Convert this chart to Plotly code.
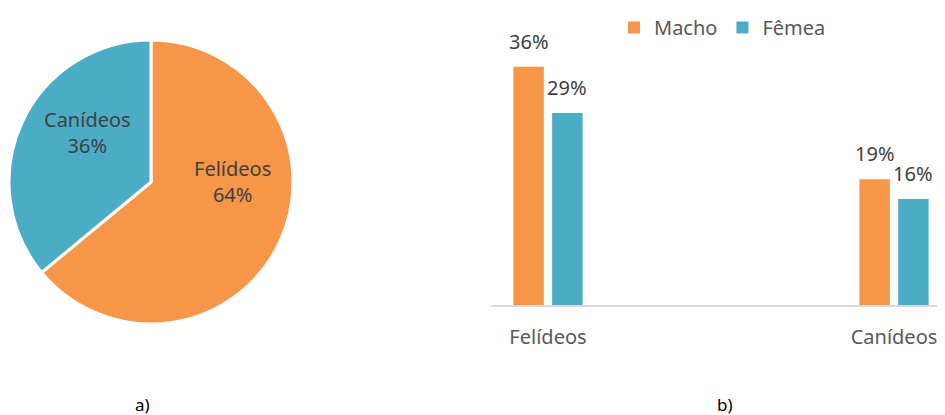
import plotly.graph_objects as go

# Data
pie_labels = ["Felídeos", "Canídeos"]
pie_values = [64, 36]

bar_categories = ["Felídeos", "Canídeos"]
macho_values = [36, 19]
femea_values = [29, 16]
series_names = ["Macho", "Fêmea"]
panel_labels = ["a)", "b)"]

ORANGE = "#F79646"
TEAL = "#4BACC6"
TXT = "#404040"
AX = "#595959"
FONT = "Noto Sans"

# the page body has an 8px margin; figure is sized to fit the 945x415 window
PAD = 8
W, H = 945 - PAD, 415 - PAD
TOP = 10  # small top margin holding the legend


def px(x):
    return (x - PAD) / W


def py(y):
    return 1 - (y - PAD - TOP) / (H - TOP)


BAR_W = 0.088
OFFS = [-0.100, 0.012]
# label anchor points for pie slices (page pixels), in pie_labels order
PIE_TEXT_POS = [(232, 181), (87, 133)]

fig = go.Figure()

fig.add_trace(go.Pie(
    labels=pie_labels, values=pie_values, sort=False, direction="clockwise", rotation=0,
    marker=dict(colors=[ORANGE, TEAL], line=dict(color="white", width=3)),
    textinfo="none",
    domain=dict(x=[px(9), px(293)], y=[py(324), py(40)]),
    showlegend=False, hoverinfo="skip",
))

total = sum(pie_values)
for lab, val, (tx, ty) in zip(pie_labels, pie_values, PIE_TEXT_POS):
    fig.add_annotation(
        x=px(tx), y=py(ty), xref="paper", yref="paper", xanchor="center", yanchor="middle",
        text=f"{lab}<br>{round(100 * val / total)}%", showarrow=False,
        font=dict(family=FONT, size=20, color=TXT), align="center",
    )

for name, vals, col, off in zip(series_names, [macho_values, femea_values], [ORANGE, TEAL], OFFS):
    fig.add_trace(go.Bar(
        name=name, x=bar_categories, y=vals, marker=dict(color=col, line=dict(width=0)),
        width=BAR_W, offset=off, xaxis="x", yaxis="y",
    ))
    for i, v in enumerate(vals):
        fig.add_annotation(
            x=i + off + BAR_W / 2, y=v, xref="x", yref="y", text=f"{v}%",
            showarrow=False, xanchor="center", yanchor="bottom", yshift=10,
            font=dict(family=FONT, size=20, color=TXT),
        )

for lab, (tx, ty) in zip(panel_labels, [(142, 404), (725, 404)]):
    fig.add_annotation(x=px(tx), y=py(ty), xref="paper", yref="paper", text=lab,
                       xanchor="center", yanchor="middle",
                       showarrow=False, font=dict(family=FONT, size=17, color="black"))

fig.update_layout(
    width=W, height=H, margin=dict(l=0, r=0, t=TOP, b=0, pad=0),
    paper_bgcolor="white", plot_bgcolor="white",
    barmode="overlay",
    xaxis=dict(domain=[px(491), 1.0], range=[-0.1647, 1.1474], type="category",
               showline=True, linecolor="#D9D9D9", linewidth=1.5, showgrid=False,
               ticks="", tickfont=dict(family=FONT, size=20, color=AX), ticklabelstandoff=13,
               zeroline=False, fixedrange=True),
    yaxis=dict(domain=[py(305), 1.0], range=[0, (305 - PAD - TOP) / 6.62], visible=False,
               showgrid=False, zeroline=False, fixedrange=True),
    legend=dict(orientation="h", x=px(614), xanchor="left", y=py(PAD), yanchor="top",
                font=dict(family=FONT, size=20, color=AX), itemwidth=30,
                bgcolor="rgba(0,0,0,0)"),
    showlegend=True,
)

fig.write_html("out.html")
